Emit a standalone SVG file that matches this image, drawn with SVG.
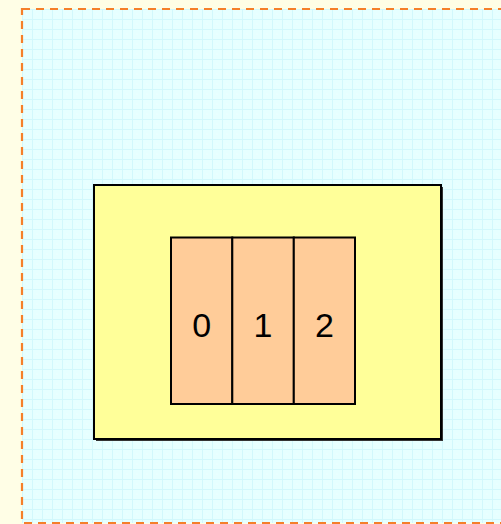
<svg xmlns="http://www.w3.org/2000/svg" width="501" height="524" viewBox="0 0 501 524">
<defs>
<pattern id="grid" x="22" y="9" width="10" height="10" patternUnits="userSpaceOnUse">
<rect width="10" height="10" fill="#e6ffff"/>
<path d="M0 0.5H10M0.5 0V10" stroke="#d2f8fc" stroke-width="1"/>
<circle cx="5" cy="5" r="0.6" fill="#f6ffff"/>
</pattern>
<style>
.cell{fill:#ffcc99;stroke:#000;stroke-width:2}
.lbl{font-family:"Liberation Sans",Arial,sans-serif;font-size:34px;fill:#000;text-anchor:middle}
</style>
</defs>
<rect x="0" y="0" width="501" height="524" fill="#fffee6"/>
<g id="container">
<rect x="22" y="9" width="490" height="514" fill="url(#grid)" stroke="#f57f2a" stroke-width="2.2" stroke-dasharray="8 6"/>
</g>
<g id="box">
<rect x="96" y="187" width="347" height="254" fill="#333"/>
<rect x="94" y="185" width="347" height="254" fill="#ffff99" stroke="#000" stroke-width="2"/>
</g>
<g id="cell0">
<rect class="cell" x="171" y="237.5" width="61.3" height="166.5"/>
<text class="lbl" x="201.7" y="336.5">0</text>
</g>
<g id="cell1">
<rect class="cell" x="232.3" y="237.5" width="61.5" height="166.5"/>
<text class="lbl" x="263" y="336.5">1</text>
</g>
<g id="cell2">
<rect class="cell" x="293.8" y="237.5" width="61.2" height="166.5"/>
<text class="lbl" x="324.5" y="336.5">2</text>
</g>
<g id="connectors"/>
</svg>
